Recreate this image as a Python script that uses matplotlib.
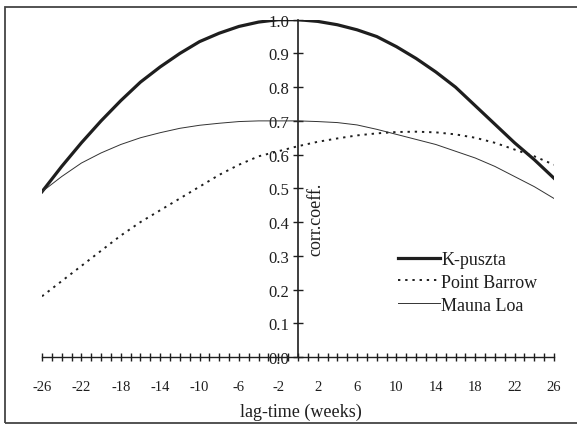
import matplotlib
matplotlib.use("Agg")
import matplotlib.pyplot as plt
from matplotlib.patches import Rectangle
from matplotlib.ticker import MultipleLocator

plt.rcParams['font.family'] = ['Liberation Serif', 'DejaVu Serif']
plt.rcParams['axes.unicode_minus'] = False

# lag in weeks, every 2 weeks
lag = [-26, -24, -22, -20, -18, -16, -14, -12, -10, -8, -6, -4, -2, 0,
       2, 4, 6, 8, 10, 12, 14, 16, 18, 20, 22, 24, 26]

k_puszta = [0.49, 0.565, 0.635, 0.70, 0.76, 0.815, 0.86, 0.90, 0.935, 0.96,
            0.98, 0.993, 1.0, 1.0, 0.995, 0.985, 0.97, 0.95, 0.92, 0.885,
            0.845, 0.80, 0.745, 0.69, 0.635, 0.585, 0.53]

point_barrow = [0.18, 0.225, 0.27, 0.315, 0.36, 0.40, 0.435, 0.47, 0.505, 0.54,
                0.57, 0.595, 0.61, 0.625, 0.638, 0.648, 0.657, 0.663, 0.667,
                0.668, 0.666, 0.66, 0.65, 0.635, 0.615, 0.595, 0.57]

mauna_loa = [0.49, 0.535, 0.575, 0.605, 0.63, 0.65, 0.665, 0.678, 0.687, 0.693,
             0.698, 0.70, 0.70, 0.70, 0.698, 0.695, 0.688, 0.675, 0.66, 0.645,
             0.63, 0.61, 0.59, 0.565, 0.535, 0.505, 0.47]

xticks = [-26, -22, -18, -14, -10, -6, -2, 2, 6, 10, 14, 18, 22, 26]
yticks = [0.0, 0.1, 0.2, 0.3, 0.4, 0.5, 0.6, 0.7, 0.8, 0.9, 1.0]

W, H = 577, 427
fig = plt.figure(figsize=(W / 100, H / 100), dpi=100)
ax = fig.add_axes([42 / W, 1 - 358 / H, 512 / W, (358 - 20.7) / H])

ink = '#1e1e1e'
ax.plot(lag, k_puszta, color=ink, lw=2.3, solid_joinstyle='round', label='K-puszta')
ax.plot(lag, point_barrow, color=ink, lw=1.4, ls=(0, (1.2, 2.5)), label='Point Barrow')
ax.plot(lag, mauna_loa, color='#333333', lw=0.7, solid_joinstyle='round',
        label='Mauna Loa')

ax.set_xlim(-26, 26)
ax.set_ylim(0, 1)

# axes cross at the origin
ax.spines['left'].set_position(('data', 0))
ax.spines['bottom'].set_position(('data', 0))
ax.spines['top'].set_visible(False)
ax.spines['right'].set_visible(False)
ax.spines['left'].set_linewidth(1.2)
ax.spines['bottom'].set_linewidth(1.0)
ax.spines['left'].set_color(ink)
ax.spines['bottom'].set_color(ink)
ax.spines['left'].set_zorder(1)

ax.set_xticks(xticks)
ax.set_xticklabels([str(t) for t in xticks])
ax.xaxis.set_minor_locator(MultipleLocator(1))
ax.set_yticks(yticks)
ax.set_yticklabels(['%.1f' % t for t in yticks])

ax.tick_params(axis='x', which='both', direction='inout', length=5.5, width=1.0,
               color=ink, labelsize=10.5, pad=14, labelcolor=ink)
ax.tick_params(axis='y', direction='inout', length=7, width=1.0,
               color=ink, labelsize=12, pad=3, labelcolor=ink)

ax.legend(loc='upper left', bbox_to_anchor=(398 / W, 1 - 252 / H),
          bbox_transform=fig.transFigure, frameon=False, fontsize=13,
          handlelength=2.3, handletextpad=0.1, labelspacing=0.32,
          borderpad=0, borderaxespad=0, labelcolor=ink)

fig.text(301 / W, 1 - 412 / H, 'lag-time (weeks)', ha='center', va='center',
         fontsize=13, color=ink)
fig.text(316 / W, 1 - 219 / H, 'corr.coeff.', ha='center', va='center',
         rotation=90, fontsize=13, color=ink)

# outer frame, open on the right
fig.patches.append(Rectangle((5 / W, 1 - 424 / H), 1.1, (424 - 8) / H,
                             transform=fig.transFigure, fill=False,
                             edgecolor='#444444', lw=1.3))

fig.savefig('out.png', dpi=100)
